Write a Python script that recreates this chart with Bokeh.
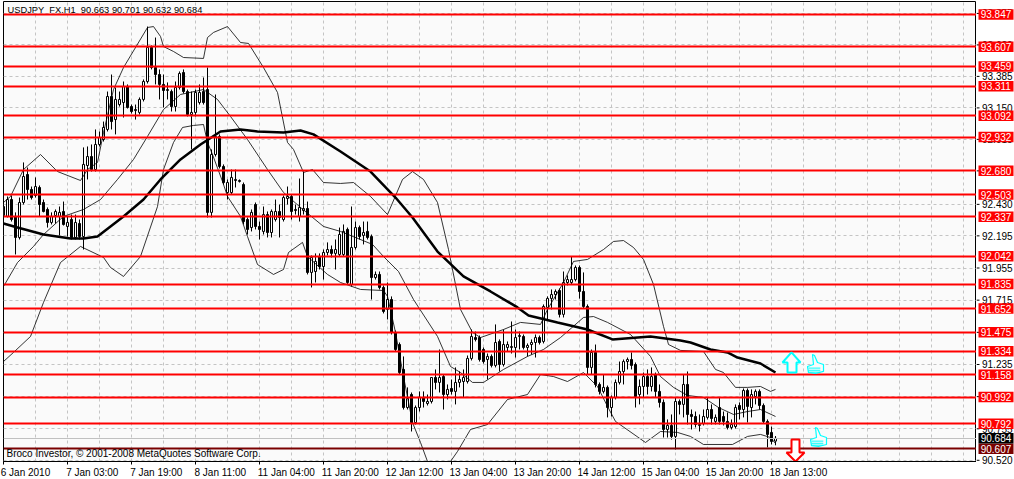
from bokeh.plotting import figure
from bokeh.layouts import row
from bokeh.models import FixedTicker
from bokeh.core.properties import value
from bokeh.embed import file_html
from bokeh.resources import INLINE

opens = [92.347,92.340,92.466,92.340,92.183,92.444,92.653,92.541,92.496,92.556,92.444,92.392,92.295,92.347,92.340,92.377,92.265,92.317,92.183,92.287,
92.190,92.720,92.787,92.690,92.877,92.914,92.989,93.235,93.063,93.175,93.190,93.310,93.160,93.130,93.116,93.213,93.347,93.601,93.451,93.399,
93.325,93.280,93.272,93.160,93.302,93.414,93.272,93.101,93.116,93.190,93.272,93.287,92.370,92.802,92.937,92.713,92.518,92.518,92.608,92.601,
92.578,92.317,92.257,92.429,92.265,92.228,92.354,92.220,92.317,92.377,92.317,92.474,92.489,92.384,92.340,92.384,92.399,91.922,91.929,92.041,
91.966,92.071,92.093,92.064,92.056,92.056,92.243,91.832,92.108,92.257,92.198,92.228,92.190,91.884,91.907,91.810,91.646,91.720,91.474,91.384,
91.198,90.914,91.011,90.802,90.914,90.989,90.944,90.959,91.138,91.101,91.145,91.011,91.056,91.034,91.101,91.108,91.108,91.280,91.436,91.436,
91.347,91.272,91.295,91.228,91.407,91.235,91.362,91.362,91.362,91.444,91.444,91.362,91.384,91.399,91.436,91.407,91.661,91.728,91.757,91.787,
91.609,91.847,91.847,91.869,91.959,91.780,91.668,91.213,91.325,91.086,91.034,91.064,90.914,90.989,91.101,91.183,91.257,91.272,91.235,91.011,
91.071,91.145,91.071,91.160,91.034,90.952,90.750,90.780,90.698,90.959,90.937,91.086,90.862,90.847,90.780,90.795,90.840,90.899,90.810,90.914,
90.847,90.810,90.765,90.772,90.929,90.899,91.041,90.914,90.996,91.034,90.929,90.810,90.728,90.663]
highs = [92.489,92.489,92.496,92.370,92.481,92.743,92.705,92.563,92.631,92.571,92.466,92.407,92.370,92.392,92.414,92.451,92.340,92.354,92.354,92.317,
92.855,92.862,92.877,92.989,92.974,93.048,93.272,93.399,93.302,93.272,93.347,93.325,93.175,93.175,93.228,93.362,93.757,93.616,93.675,93.437,
93.399,93.340,93.287,93.347,93.422,93.437,93.287,93.272,93.287,93.325,93.377,93.451,92.840,93.250,92.952,92.728,92.616,92.690,92.690,92.616,
92.593,92.332,92.392,92.444,92.302,92.414,92.377,92.392,92.466,92.429,92.496,92.563,92.503,92.429,92.623,92.675,92.451,92.049,92.064,92.064,
92.093,92.146,92.123,92.168,92.257,92.280,92.257,92.414,92.302,92.272,92.302,92.302,92.205,91.929,91.929,91.825,91.847,91.743,91.489,91.399,
91.295,91.064,91.026,90.929,91.034,91.034,91.011,91.138,91.198,91.347,91.160,91.086,91.123,91.213,91.183,91.198,91.302,91.496,91.481,91.451,
91.362,91.317,91.310,91.534,91.422,91.496,91.407,91.556,91.496,91.481,91.459,91.392,91.422,91.459,91.451,91.683,91.743,91.795,91.795,91.802,
91.929,91.900,92.041,91.974,91.974,91.922,91.683,91.347,91.384,91.101,91.160,91.078,91.004,91.123,91.257,91.272,91.287,91.325,91.250,91.123,
91.175,91.198,91.213,91.175,91.086,90.974,90.825,90.862,90.989,90.974,91.160,91.183,90.899,90.884,90.862,90.899,90.989,90.937,90.862,90.989,
90.884,90.877,90.825,90.937,90.952,91.056,91.056,91.049,91.049,91.049,90.944,90.825,90.772,90.701]
lows = [92.340,92.332,92.302,92.056,92.168,92.429,92.466,92.466,92.481,92.340,92.370,92.257,92.280,92.287,92.198,92.272,92.190,92.168,92.168,92.168,
92.093,92.616,92.675,92.675,92.862,92.899,92.974,92.989,92.952,93.160,93.078,93.145,93.108,93.063,93.101,93.198,93.332,93.437,93.325,93.213,
93.153,93.213,93.123,93.123,93.287,93.257,93.086,92.840,93.086,93.175,93.175,92.332,92.332,92.787,92.698,92.578,92.466,92.503,92.556,92.593,
92.280,92.205,92.228,92.243,92.168,92.205,92.183,92.183,92.302,92.183,92.302,92.429,92.317,92.354,92.302,92.354,91.907,91.810,91.847,91.944,
91.869,92.049,92.034,91.944,92.041,92.041,91.832,91.817,92.093,92.168,92.131,92.168,91.720,91.869,91.795,91.616,91.571,91.459,91.332,91.160,
90.899,90.899,90.735,90.787,90.884,90.914,90.929,90.944,91.049,91.026,90.899,90.974,91.011,90.937,91.064,90.989,91.093,91.265,91.407,91.257,
91.242,91.123,91.213,91.213,91.183,91.220,91.332,91.317,91.287,91.347,91.347,91.295,91.310,91.287,91.384,91.392,91.571,91.646,91.720,91.586,
91.586,91.825,91.832,91.855,91.727,91.653,91.160,91.160,91.064,91.011,91.019,90.840,90.847,90.974,91.086,91.086,91.198,91.198,90.914,90.937,
90.989,91.011,91.034,90.989,90.914,90.690,90.690,90.675,90.601,90.862,90.840,90.787,90.750,90.765,90.735,90.780,90.825,90.787,90.787,90.787,
90.780,90.750,90.750,90.757,90.825,90.840,90.802,90.840,90.937,90.899,90.795,90.616,90.638,90.632]
closes = [92.414,92.466,92.317,92.183,92.444,92.638,92.541,92.481,92.563,92.429,92.377,92.295,92.340,92.377,92.370,92.280,92.295,92.183,92.295,92.190,
92.728,92.787,92.690,92.877,92.929,93.004,93.235,93.048,93.213,93.213,93.310,93.153,93.123,93.138,93.213,93.347,93.601,93.451,93.399,93.325,
93.280,93.287,93.160,93.302,93.407,93.272,93.101,93.116,93.265,93.265,93.190,92.370,92.802,92.937,92.713,92.593,92.593,92.631,92.616,92.608,
92.302,92.243,92.370,92.265,92.243,92.354,92.220,92.377,92.377,92.332,92.481,92.489,92.377,92.392,92.407,92.399,91.922,92.034,92.004,91.966,
92.071,92.093,92.064,92.093,92.205,92.228,91.847,92.108,92.257,92.190,92.220,92.183,91.884,91.907,91.810,91.631,91.720,91.474,91.347,91.175,
90.914,90.981,90.802,90.914,90.989,90.959,90.959,91.138,91.101,91.138,91.011,91.049,91.034,91.101,91.123,91.138,91.280,91.444,91.422,91.272,
91.257,91.295,91.228,91.399,91.235,91.384,91.384,91.369,91.436,91.451,91.362,91.377,91.399,91.436,91.399,91.668,91.728,91.757,91.780,91.609,
91.847,91.869,91.869,91.959,91.780,91.668,91.213,91.325,91.086,91.034,91.064,90.914,90.989,91.101,91.183,91.257,91.272,91.228,90.996,91.071,
91.145,91.071,91.145,91.034,90.952,90.750,90.780,90.698,90.959,90.937,91.086,90.862,90.847,90.787,90.787,90.847,90.899,90.832,90.840,90.810,
90.810,90.765,90.787,90.914,90.899,91.041,90.922,91.011,91.034,90.929,90.810,90.713,90.661,90.684]

ma_x = [0,3.5,10,16.75,20,23.5,26.75,30,35,39.25,44.25,49.25,54.25,59.25,63.5,70,74.25,77.5,84.25,87.25,91.75,98,102.25,108.5,115,121.75,128.5,131.25,138.5,146,152.25,161.75,169.25,171.75,176.75,181,183.5,189.25,193]
ma_y = [92.287,92.257,92.205,92.175,92.175,92.190,92.265,92.340,92.466,92.616,92.765,92.877,92.974,92.989,92.974,92.966,92.981,92.952,92.825,92.765,92.675,92.481,92.332,92.078,91.892,91.780,91.661,91.601,91.549,91.496,91.422,91.444,91.414,91.399,91.347,91.325,91.287,91.242,91.175]
up_x = [0,1.75,5,9.25,13.5,19.25,21,23.5,25,27.5,30,36,37.5,39.25,40,42.5,45,50,51,52.5,56,59.25,61.25,65,68.5,71,72.5,75,77.25,80,84.25,87.5,91.75,96,99.75,102.25,105,108.5,111.25,114.25,117.25,119.25,125,129.25,134.25,136,140,142.5,146,150,152.5,155,157.5,160,162.5,165,166.25,169.25,175,178,180,183,186,189.25,191.75,193]
up_y = [92.444,92.489,92.690,92.802,92.675,92.608,92.690,92.743,92.966,93.287,93.451,93.750,93.757,93.683,93.608,93.571,93.526,93.519,93.675,93.713,93.757,93.638,93.631,93.451,93.265,92.892,92.840,92.668,92.690,92.593,92.586,92.593,92.489,92.354,92.616,92.675,92.616,92.444,92.093,91.646,91.474,91.436,91.496,91.549,91.534,91.646,91.847,92.004,92.019,92.093,92.153,92.160,92.108,92.019,91.832,91.519,91.384,91.340,91.332,91.198,91.175,91.064,91.064,91.071,91.034,91.049]
mid_x = [0,3.5,7.5,10,15,20,24.25,28.5,32.5,36,40,44.25,50,53.5,56.75,61,66,70,74.25,80,84.25,92.25,95,98.75,102.5,108.5,111.75,114.25,117.25,120,125,131,135,139.25,145,147.5,151,156.75,161.75,164.25,167.5,171,175,178.75,182.5,186,189.25,193]
mid_y = [91.817,91.996,92.116,92.205,92.340,92.392,92.466,92.616,92.765,92.937,93.138,93.250,93.287,93.213,93.086,92.914,92.690,92.519,92.407,92.265,92.228,92.131,92.041,91.929,91.720,91.444,91.220,91.175,91.101,91.101,91.198,91.295,91.347,91.436,91.586,91.593,91.549,91.459,91.295,91.145,91.064,91.004,90.989,90.914,90.862,90.884,90.899,90.847]
lo_x = [0,2.5,6.75,10,14.25,19.25,25,26.75,30,34.25,38.5,40,42.5,44.75,47.5,50,51,52.25,54.75,56,59.25,61,63.5,67.5,70,71.25,74.75,76,81,84.25,89.25,95,96,98,100,102.25,104.25,106,108.75,111.75,113.5,116.75,121,126,131,134.25,137.5,141,145,148.5,151,153,160.5,164.25,168.5,171.75,175,182.25,186,189.25,191.75,193]
lo_y = [91.257,91.325,91.444,91.698,91.996,92.116,92.034,91.959,91.892,92.041,92.414,92.690,92.892,93.004,93.019,93.026,92.892,92.802,92.601,92.489,92.340,92.190,91.981,91.907,91.944,92.071,92.146,92.041,91.907,91.847,91.795,91.787,91.743,91.474,91.145,90.802,90.653,90.511,90.414,90.511,90.586,90.750,90.787,90.974,91.011,91.160,91.145,91.108,91.175,91.071,90.922,90.810,90.653,90.735,90.728,90.698,90.638,90.638,90.698,90.713,90.690,90.645]

levels = [93.847,93.607,93.459,93.311,93.092,92.932,92.680,92.503,92.337,92.042,91.835,91.652,91.475,91.334,91.158,90.992,90.792]
support = 90.607
last_price = 90.684
level_labels = ["93.847","93.607","93.459","93.311","93.092","92.932","92.680","92.503","92.337","92.042","91.835","91.652","91.475","91.334","91.158","90.992","90.792"]

price_ticks = [93.855,93.620,93.385,93.150,92.915,92.680,92.430,92.195,91.955,91.715,91.475,91.235,90.995,90.755,90.520]
price_tick_labels = ["93.855","93.620","93.385","93.150","92.915","92.680","92.430","92.195","91.955","91.715","91.475","91.235","90.995","90.755","90.520"]
time_ticks = [0,16,32,48,64,80,96,112,128,144,160,176,192]
time_labels = ["6 Jan 2010","7 Jan 03:00","7 Jan 19:00","8 Jan 11:00","11 Jan 04:00","11 Jan 20:00","12 Jan 12:00","13 Jan 04:00","13 Jan 20:00","14 Jan 12:00","15 Jan 04:00","15 Jan 20:00","18 Jan 13:00"]
label_half_widths = [5.5,6.2,6.2,6.2,6.7,6.7,6.7,6.7,6.7,6.7,6.7,6.7,6.7]
label_ticks = [t + w for t, w in zip(time_ticks, label_half_widths)]
grid_x = [8*k for k in range(1, 31)]

up_arrow_x = [197,199.25,198.25,198.25,196,196,194.75]
up_arrow_y = [91.325,91.250,91.250,91.175,91.175,91.250,91.250]
down_arrow_x = [197,199,199,200.25,198,195.75,197]
down_arrow_y = [90.675,90.675,90.578,90.578,90.511,90.578,90.578]
thumb_x = [202.25,202.75,203.5,205,205,203,201.25,201,202.5]
thumb_y = [91.310,91.302,91.250,91.235,91.183,91.168,91.175,91.220,91.235]
thumb2_x = [v + 0.75 for v in thumb_x]
thumb2_y = [v - 0.545 for v in thumb_y]

FONT = "Liberation Sans"
YR = (90.511, 93.944)
p = figure(width=976, height=479, frame_width=973, frame_height=460, output_backend="svg", toolbar_location=None,
           x_range=(0, 243.25), y_range=YR, y_axis_location=None,
           min_border_left=3, min_border_right=0, min_border_top=1, min_border_bottom=18,
           background_fill_color="#fafafa", border_fill_color="white",
           outline_line_color="black")

p.xgrid.ticker = FixedTicker(ticks=grid_x)
p.ygrid.ticker = FixedTicker(ticks=price_ticks)
for g in (p.xgrid, p.ygrid):
    g.grid_line_color = "#c4c4c4"
    g.grid_line_dash = "3 3"
    g.grid_line_width = 1

ax = p.xaxis[0]
ax.ticker = FixedTicker(ticks=label_ticks, minor_ticks=time_ticks)
ax.major_label_overrides = dict(zip(label_ticks, time_labels))
ax.major_label_text_font = FONT
ax.major_label_text_font_size = "10px"
ax.major_label_text_color = "black"
ax.major_label_standoff = 2
ax.major_tick_line_color = None
ax.major_tick_in = 0
ax.major_tick_out = 3
ax.minor_tick_in = 0
ax.minor_tick_out = 3
ax.minor_tick_line_color = "black"
ax.axis_line_color = "black"

idx = list(range(len(opens)))
p.segment(idx, lows, idx, highs, line_color="black", line_width=1)
up = [i for i in idx if closes[i] >= opens[i]]
dn = [i for i in idx if closes[i] < opens[i]]
p.vbar(up, 0.5, [closes[i] for i in up], [opens[i] for i in up],
       fill_color="white", line_color="black", line_width=1)
p.vbar(dn, 0.5, [opens[i] for i in dn], [closes[i] for i in dn],
       fill_color="black", line_color="black", line_width=1)

p.line(up_x, up_y, line_color="black", line_width=0.8)
p.line(mid_x, mid_y, line_color="black", line_width=0.8)
p.line(lo_x, lo_y, line_color="black", line_width=0.8)
p.line(ma_x, ma_y, line_color="black", line_width=2.5)

p.hspan(y=[last_price], line_color="#c0c0c0", line_width=1)
p.hspan(y=[support], line_color="#7a0000", line_width=2)
p.hspan(y=levels, line_color="#ff0000", line_width=2)

p.patch(up_arrow_x, up_arrow_y, fill_color="#fafafa", line_color="#00ffff", line_width=2)
p.patch(down_arrow_x, down_arrow_y, fill_color="white", line_color="#ff0000", line_width=2)
for tx, ty in ((thumb_x, thumb_y), (thumb2_x, thumb2_y)):
    p.patch(tx, ty, fill_color="#fafafa", line_color="#00ffff", line_width=1.2)
    p.segment([tx[6], tx[6], tx[6]], [ty[7] - 0.012, ty[7] - 0.028, ty[7] - 0.042],
              [tx[4] - 0.8, tx[4] - 0.8, tx[4] - 0.8], [ty[7] - 0.012, ty[7] - 0.028, ty[7] - 0.042],
              line_color="#00ffff", line_width=1)

p.text(x=[1], y=[93.884], text=["USDJPY\u00a0\u00a0FX.H1\u00a0\u00a090.663 90.701 90.632 90.684"], text_color="black",
       text_font=value(FONT), text_font_size="9.3px", text_baseline="middle")
p.text(x=[0.75], y=[90.571], text=["Broco Investor, © 2001-2008 MetaQuotes Software Corp."], text_color="black",
       text_font=value(FONT), text_font_size="10px", text_baseline="middle")

# price scale column: same vertical scale as the chart, with 6 px more room below it
scale_px = (YR[1] - YR[0]) / 460
s = figure(width=38, height=479, frame_width=38, frame_height=466, output_backend="svg", toolbar_location=None,
           x_range=(0, 38), y_range=(YR[0] - 6 * scale_px, YR[1]), x_axis_location=None, y_axis_location=None,
           min_border_left=0, min_border_right=0, min_border_top=1, min_border_bottom=12,
           background_fill_color="white", border_fill_color="white", outline_line_color=None)
s.xgrid.visible = False
s.ygrid.visible = False
s.segment([0]*len(price_ticks), price_ticks, [3]*len(price_ticks), price_ticks, line_color="black", line_width=1)
s.text(x=[5.5]*len(price_ticks), y=price_ticks, text=price_tick_labels, text_color="black",
       text_font=value(FONT), text_font_size="10px", text_baseline="middle")

tag_y = levels + [support, last_price]
tag_text = level_labels + ["90.607", "90.684"]
tag_fill = ["#ff0000"]*len(levels) + ["#7a0000", "black"]
n = len(tag_y)
s.rect(x=[19.5]*n, y=tag_y, width=35, height=10.5, height_units="screen",
       fill_color=tag_fill, line_color=None)
s.text(x=[19.5]*n, y=tag_y, text=tag_text, text_color="white", text_align="center", text_baseline="middle",
       text_font=value(FONT), text_font_size="10px")

layout = row(p, s, spacing=0)
layout.styles = {"position": "absolute", "left": "0px", "top": "0px"}
open("out.html", "w").write(file_html(layout, INLINE))
